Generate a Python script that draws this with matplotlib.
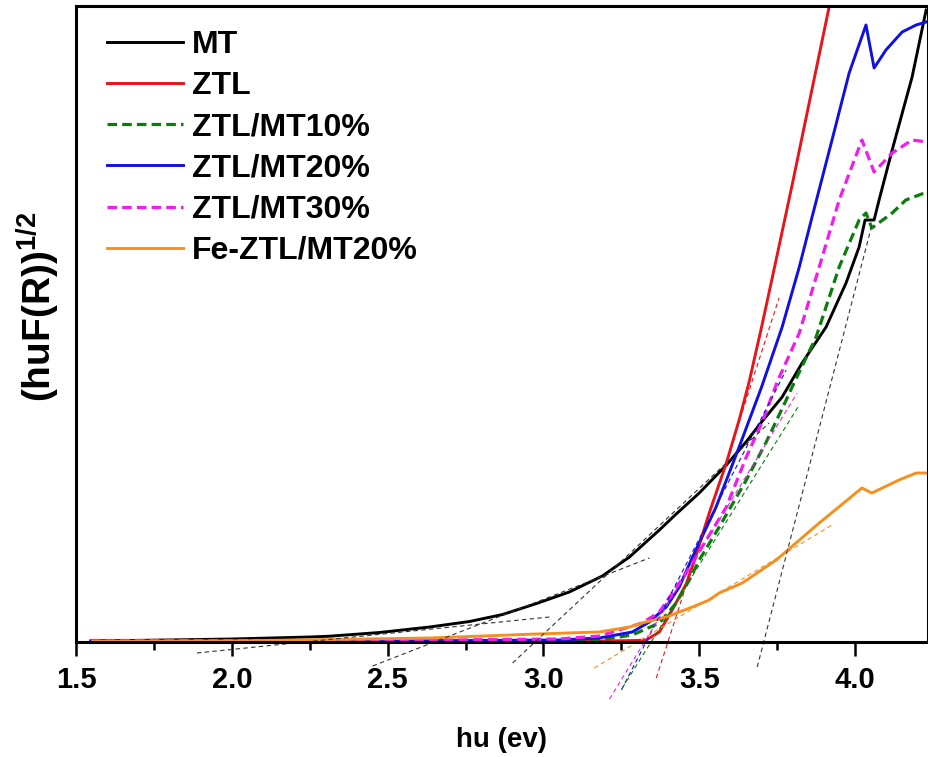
import matplotlib
matplotlib.use("Agg")
import matplotlib.pyplot as plt
from matplotlib.ticker import MultipleLocator, NullLocator

plt.rcParams['font.family'] = ['Liberation Sans', 'DejaVu Sans']
plt.rcParams['font.weight'] = 'bold'
plt.rcParams['mathtext.fontset'] = 'custom'
plt.rcParams['mathtext.bf'] = 'Liberation Sans:bold'
plt.rcParams['mathtext.rm'] = 'Liberation Sans:bold'

# ---------------- data (energy in eV, intensity in arbitrary units) -----------
mt_x = [1.548, 1.75, 2.0, 2.25, 2.314, 2.474, 2.635, 2.763, 2.869, 2.978, 3.083,
        3.189, 3.276, 3.372, 3.426, 3.5, 3.587, 3.65, 3.70, 3.766, 3.83, 3.907,
        3.971, 4.013, 4.032, 4.061, 4.077, 4.119, 4.183, 4.228]
mt_y = [0.01, 0.018, 0.03, 0.05, 0.058, 0.095, 0.15, 0.205, 0.275, 0.385, 0.50,
        0.66, 0.85, 1.12, 1.28, 1.49, 1.77, 2.0, 2.2, 2.45, 2.79, 3.15,
        3.59, 3.95, 4.22, 4.22, 4.42, 4.92, 5.65, 6.32]

ztl_x = [1.548, 2.5, 3.051, 3.179, 3.298, 3.33, 3.372, 3.413, 3.458, 3.485, 3.532,
         3.587, 3.628, 3.66, 3.70, 3.75, 3.80, 3.85, 3.90, 3.92]
ztl_y = [0.005, 0.005, 0.005, 0.01, 0.015, 0.02, 0.10, 0.32, 0.58, 0.82, 1.29,
         1.79, 2.22, 2.60, 3.15, 3.87, 4.60, 5.35, 6.10, 6.40]

m10_x = [1.548, 2.5, 3.051, 3.179, 3.285, 3.372, 3.426, 3.468, 3.5, 3.564, 3.651,
         3.715, 3.779, 3.798, 3.875, 3.949, 4.013, 4.035, 4.054, 4.119, 4.163, 4.231]
m10_y = [0.01, 0.01, 0.01, 0.02, 0.07, 0.19, 0.39, 0.62, 0.82, 1.15, 1.62,
         2.0, 2.42, 2.55, 3.05, 3.75, 4.22, 4.29, 4.14, 4.29, 4.42, 4.50]

m20_x = [1.548, 2.5, 3.051, 3.179, 3.285, 3.34, 3.394, 3.436, 3.474, 3.554, 3.628,
         3.70, 3.766, 3.821, 3.862, 3.926, 3.981, 4.035, 4.061, 4.099, 4.151,
         4.196, 4.228]
m20_y = [0.01, 0.01, 0.02, 0.04, 0.10, 0.20, 0.35, 0.55, 0.82, 1.35, 1.95,
         2.55, 3.15, 3.75, 4.25, 5.02, 5.69, 6.17, 5.74, 5.92, 6.10,
         6.17, 6.20]

m30_x = [1.548, 2.5, 3.051, 3.179, 3.317, 3.372, 3.458, 3.587, 3.651, 3.702, 3.75,
         3.821, 3.885, 3.949, 4.022, 4.061, 4.119, 4.183, 4.231]
m30_y = [0.015, 0.015, 0.03, 0.06, 0.19, 0.30, 0.69, 1.35, 1.85, 2.2, 2.6,
         3.09, 3.75, 4.42, 5.02, 4.70, 4.89, 5.02, 5.00]

fe_x = [1.554, 2.0, 2.635, 2.978, 3.179, 3.276, 3.317, 3.394, 3.478, 3.532, 3.564,
        3.638, 3.747, 3.885, 4.022, 4.054, 4.141, 4.196, 4.231]
fe_y = [0.005, 0.01, 0.04, 0.08, 0.10, 0.15, 0.19, 0.25, 0.35, 0.42, 0.49,
        0.59, 0.82, 1.19, 1.54, 1.49, 1.62, 1.69, 1.69]

series_names = ['MT', 'ZTL', 'ZTL/MT10%', 'ZTL/MT20%', 'ZTL/MT30%', 'Fe-ZTL/MT20%']

# tangent (extrapolation) lines: (x start, x end), (y start, y end)
tan_mt1 = [(1.888, 3.019), (-0.11, 0.25)]
tan_mt2 = [(2.452, 3.34), (-0.24, 0.84)]
tan_mt3 = [(2.901, 3.724), (-0.21, 2.19)]
tan_mt4 = [(3.686, 4.054), (-0.25, 4.17)]
tan_ztl = [(3.362, 3.756), (-0.36, 3.44)]
tan_m20 = [(3.25, 3.779), (-0.48, 2.72)]
tan_m30 = [(3.212, 3.814), (-0.57, 2.49)]
tan_m10 = [(3.253, 3.821), (-0.46, 2.37)]
tan_fe = [(3.163, 3.926), (-0.26, 1.17)]

# ---------------- figure ----------------
fig = plt.figure(figsize=(9.29, 7.57), dpi=100)
ax = fig.add_axes([76/929, 1-642/757, (928-76)/929, (642-6)/757])

c_black = 'black'
c_red = '#e8141c'
c_green = '#0a7d0a'
c_blue = '#1010e0'
c_mag = '#f01cf0'
c_orange = '#f5901e'

lw = 2.1
ax.plot(mt_x, mt_y, color=c_black, lw=lw, label=series_names[0])
ax.plot(ztl_x, ztl_y, color=c_red, lw=lw, label=series_names[1])
ax.plot(m10_x, m10_y, color=c_green, lw=2.3, ls=(0, (3, 1.6)), label=series_names[2])
ax.plot(m20_x, m20_y, color=c_blue, lw=lw, label=series_names[3])
ax.plot(m30_x, m30_y, color=c_mag, lw=2.3, ls=(0, (3, 1.6)), label=series_names[4])
ax.plot(fe_x, fe_y, color=c_orange, lw=lw, label=series_names[5])

tls = (0, (4, 3))
for t, c in [(tan_mt1, '#333333'), (tan_mt2, '#333333'), (tan_mt3, '#333333'),
             (tan_mt4, '#333333'), (tan_ztl, c_red), (tan_m20, c_blue),
             (tan_m30, c_mag), (tan_m10, c_green), (tan_fe, c_orange)]:
    ax.plot(t[0], t[1], color=c, lw=0.8, ls=tls, clip_on=False)

ax.set_xlim(1.5, 4.234)
ax.set_ylim(0, 6.36)

ax.xaxis.set_major_locator(MultipleLocator(0.5))
ax.xaxis.set_minor_locator(MultipleLocator(0.25))
ax.yaxis.set_major_locator(NullLocator())
ax.yaxis.set_minor_locator(NullLocator())
ax.tick_params(axis='x', which='major', direction='out', length=10, width=1.8,
               labelsize=21, pad=7)
ax.tick_params(axis='x', which='minor', direction='out', length=5.5, width=1.8)
for lab in ax.get_xticklabels():
    lab.set_fontweight('bold')
for s in ax.spines.values():
    s.set_linewidth(2.2)

ax.set_xlabel('hu (ev)', fontsize=20, fontweight='bold')
ax.xaxis.set_label_coords(0.5, -(740 - 642) / 636)
ax.xaxis.label.set_va('center')
ax.set_ylabel(r'$\mathbf{(huF(R))^{1/2}}$', fontsize=28)
ax.yaxis.set_label_coords((62 - 76) / 852, (642 - 307) / 636)

leg = ax.legend(loc='upper left', bbox_to_anchor=(107/929, 1-30/757),
                bbox_transform=fig.transFigure, frameon=False, borderpad=0,
                borderaxespad=0, handlelength=2.38, handletextpad=0.28,
                labelspacing=0.35, prop={'size': 23, 'weight': 'bold'})

fig.savefig('out.png', dpi=100)
